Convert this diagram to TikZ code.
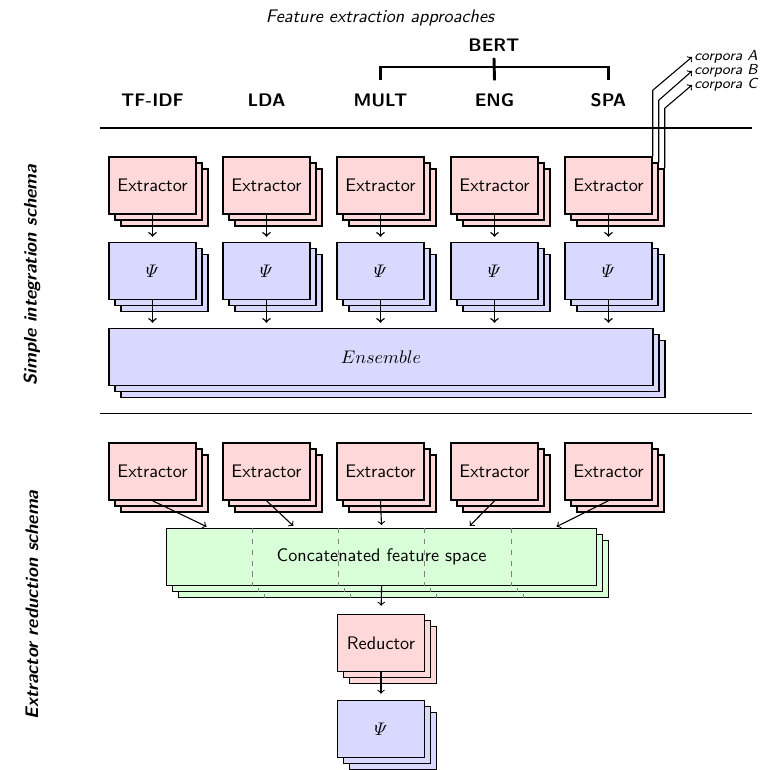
\documentclass[tikz,border=0pt]{standalone}
\usepackage{amsmath}
\usepackage{fontspec}
\usetikzlibrary{shadows,calc}

\begin{document}
\begin{tikzpicture}[x=0.55pt,y=-0.55pt,>=to,semithick,
    box/.style={draw=black,thick,font=\sffamily,minimum width=47.85pt,minimum height=31.35pt,inner sep=1pt,double copy shadow={shadow xshift=3.3pt,shadow yshift=-3.3pt}},
    extbox/.style={box,fill=red!15},
    psibox/.style={box,fill=blue!15},
    head/.style={font=\sffamily\bfseries},
    side/.style={font=\sffamily\bfseries\itshape,rotate=90},
    corp/.style={font=\footnotesize\sffamily\itshape,inner sep=1pt,anchor=west},
    catbox/.style={draw=black,thick,fill=green!15,font=\sffamily,minimum width=236.5pt,minimum height=31.35pt},
    sep/.style={gray,thin,dashed,-}]
        \useasboundingbox (0,0) rectangle (760,770);
        % headers
        \node[font=\sffamily\itshape](title)at(380, 18){Feature extraction approaches};
        \node[head](bert)at(494, 45){BERT};
        \node[head](tfidf)at(152.5, 100){TF-IDF};
        \node[head](lda)at(266.5, 100){LDA};
        \node[head](mult)at(380.5, 100){MULT};
        \node[head](eng)at(494.5, 100){ENG};
        \node[head](spa)at(608.5, 100){SPA};
        \coordinate(brk)at(494.5, 67);
        \draw[ultra thick](bert.south) -- ([yshift=3.6pt]eng.north);
        \draw[ultra thick]([yshift=3.6pt]mult.north) |- (brk) -| ([yshift=3.6pt]spa.north);
        \draw(100, 128) -- (752, 128);
        \draw(100, 413.5) -- (752, 413.5);
        \node[side](simple)at(32, 275){Simple integration schema};
        \node[side](reduct)at(32, 605){Extractor reduction schema};
        % simple integration schema
        \foreach \i/\x in {1/152.5,2/266.5,3/380.5,4/494.5,5/608.5}{
            \node[extbox](ex\i)at(\x, 185.5){Extractor};
            \node[psibox](ps\i)at(\x, 271){$\varPsi$};
        }
        \node[psibox,minimum width=299.2pt](ens)at(381, 357){$Ensemble$};
        \foreach \i in {1,...,5}{
            \path[->,thick,shorten >=2.75pt](ex\i) edge (ps\i)
            (ps\i.south) edge (ps\i.south |- ens.north);
        }
        % corpora
        \node[corp](ca)at(692, 57){corpora A};
        \node[corp](cb)at(692, 71){corpora B};
        \node[corp](cc)at(692, 85){corpora C};
        \draw[->](ex5.north east) -- ++(0, -66) -- (ca.west);
        \draw[->]($(ex5.north east)+(3.3pt,-3.3pt)$) -- ++(0, -62) -- (cb.west);
        \draw[->]($(ex5.north east)+(6.6pt,-6.6pt)$) -- ++(0, -60) -- (cc.west);
        % extractor reduction schema
        \foreach \i/\x in {1/152.5,2/266.5,3/380.5,4/494.5,5/608.5}{
            \node[extbox](lx\i)at(\x, 471.5){Extractor};
        }
        \foreach \d in {12,6}{
            \node[catbox](cp\d)at(381.6+\d, 557+\d){};
            \foreach \k in {1,...,4}
                \draw[sep]($(cp\d.north west)!\k/5!(cp\d.north east)$) -- ($(cp\d.south west)!\k/5!(cp\d.south east)$);
        }
        \node[catbox](cat)at(381.6, 557){Concatenated feature space};
        \foreach \k in {1,...,4}
            \draw[sep]($(cat.north west)!\k/5!(cat.north east)$) -- ($(cat.south west)!\k/5!(cat.south east)$);
        \foreach \i in {1,...,5}{
            \coordinate(seg\i)at($(cat.north west)!{(\i-0.5)/5}!(cat.north east)$);
            \path[->,shorten >=1.5pt](lx\i.south) edge (seg\i);
        }
        \node[extbox](red)at(381, 643){Reductor};
        \node[psibox](fin)at(381, 729){$\varPsi$};
        \path[->](cat.south) edge [shorten >=4.4pt] (red.north)
        (red.south) edge [shorten >=3.3pt] (fin.north);
\end{tikzpicture}
\end{document}
